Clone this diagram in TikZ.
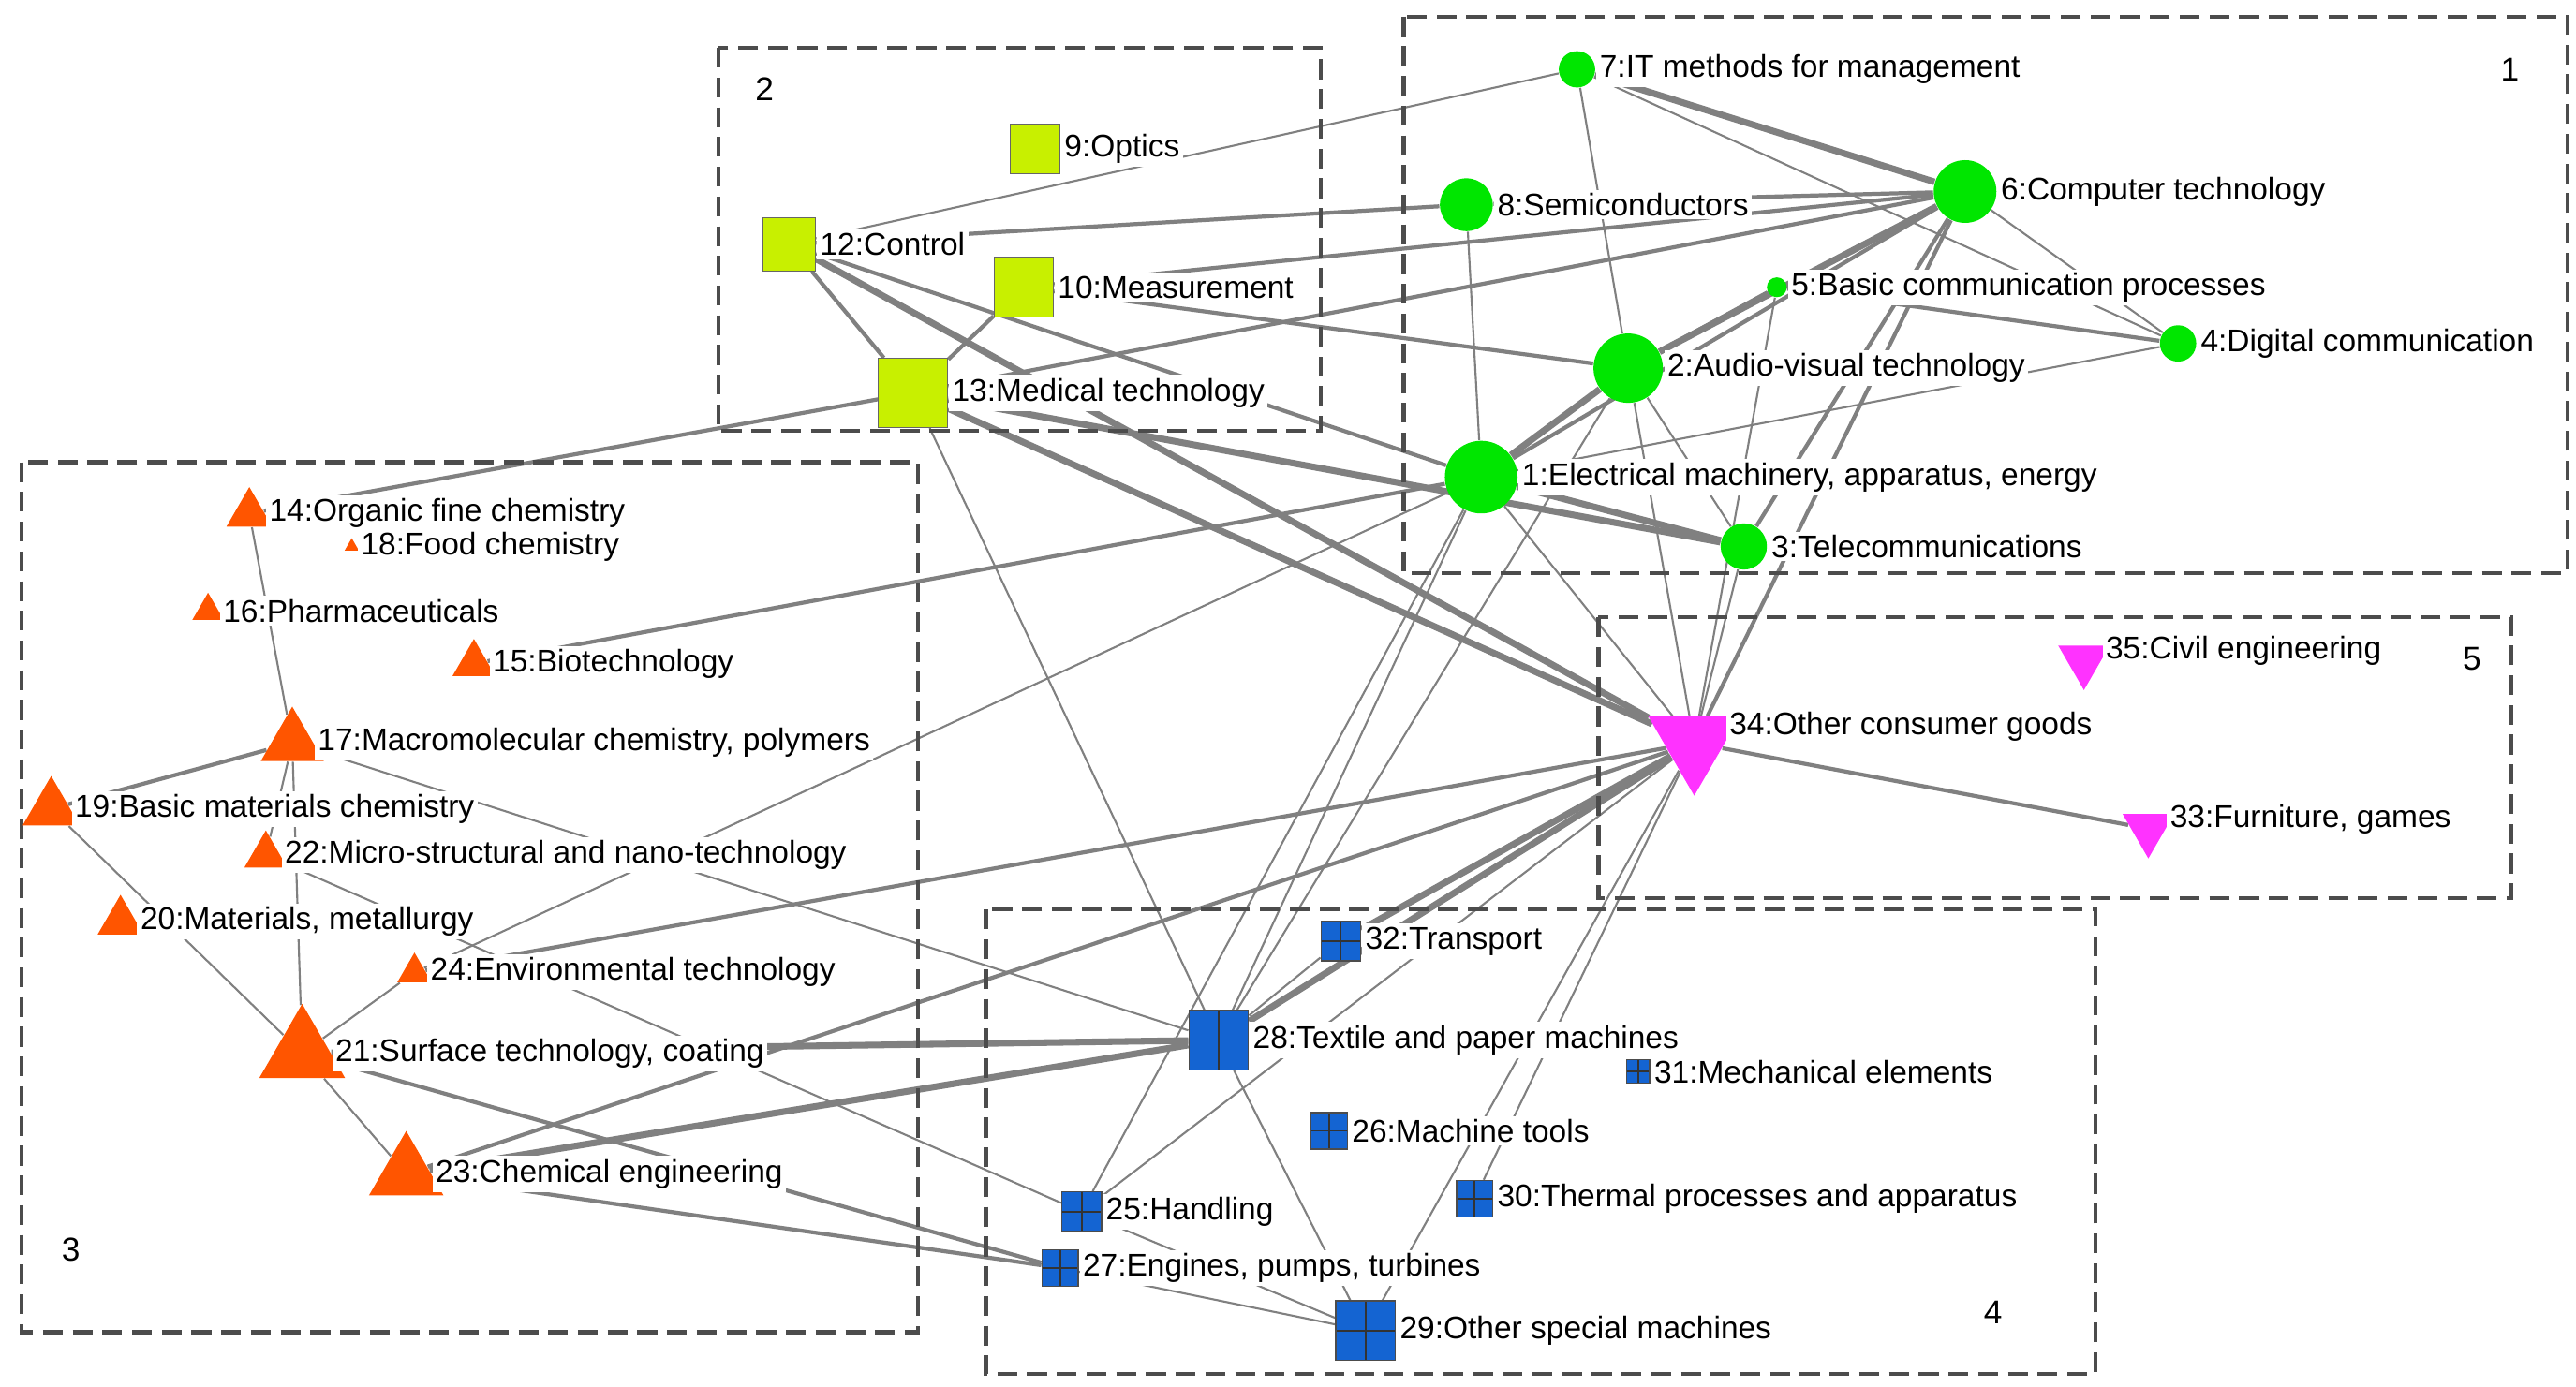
\documentclass[tikz,border=0pt]{standalone}
\usepackage{fontspec}
\setmainfont{Liberation Sans}
\usetikzlibrary{shapes.geometric}
\pgfdeclarelayer{background}
\pgfsetlayers{background,main}

\begin{document}
\begin{tikzpicture}[
  x=0.5pt, y=-0.5pt,
  every label/.style={font=\fontsize{9.5}{11}\selectfont, inner sep=1pt, fill=white},
  gc/.style={circle, fill={rgb,255:red,0;green,230;blue,0}, inner sep=0, minimum size=#1},
  ysq/.style={rectangle, fill={rgb,255:red,200;green,240;blue,0}, draw=black!60, line width=0.3pt, inner sep=0, minimum size=#1},
  tri/.style={regular polygon, regular polygon sides=3, fill={rgb,255:red,255;green,85;blue,0}, inner sep=0, minimum size=#1},
  inv/.style={regular polygon, regular polygon sides=3, shape border rotate=180, fill={rgb,255:red,255;green,50;blue,255}, inner sep=0, minimum size=#1},
  bsq/.style={rectangle, fill={rgb,255:red,20;green,100;blue,210}, draw=black!70, line width=0.4pt, inner sep=0, minimum size=#1,
    path picture={\draw[black!80, line width=0.5pt] (path picture bounding box.north) -- (path picture bounding box.south)
      (path picture bounding box.west) -- (path picture bounding box.east);}},
  grp/.style={draw=black!70, dashed, dash pattern=on 6pt off 3pt, line width=1.2pt},
  e/.style={draw=gray, line width=0.6pt},
  em/.style={draw=gray, line width=1.2pt},
  eh/.style={draw=gray, line width=2pt},
]
\useasboundingbox (0,0) rectangle (1560,840);

% groups
\draw[grp] (850,10) rectangle (1555,347);
\draw[grp] (435,29) rectangle (800,261);
\draw[grp] (13,280) rectangle (556,807);
\draw[grp] (597,551) rectangle (1269,832);
\draw[grp] (968,374) rectangle (1521,544);
\node[font=\fontsize{10}{12}\selectfont] (g1) at (1520,42) {1};
\node[font=\fontsize{10}{12}\selectfont] (g2) at (463,54) {2};
\node[font=\fontsize{10}{12}\selectfont] (g3) at (43,757) {3};
\node[font=\fontsize{10}{12}\selectfont] (g4) at (1207,795) {4};
\node[font=\fontsize{10}{12}\selectfont] (g5) at (1497,399) {5};

% nodes
\node[gc=22pt, label=east:{1:Electrical machinery, apparatus, energy}] (n1) at (897,289) {};
\node[gc=21pt, label=east:{2:Audio-visual technology}] (n2) at (986,223) {};
\node[gc=14pt, label=east:{3:Telecommunications}] (n3) at (1056,331) {};
\node[gc=11pt, label=east:{4:Digital communication}] (n4) at (1319,208) {};
\node[gc=6pt, label=east:{5:Basic communication processes}] (n5) at (1076,174) {};
\node[gc=19pt, label=east:{6:Computer technology}] (n6) at (1190,116) {};
\node[gc=11pt, label=east:{7:IT methods for management}] (n7) at (955,42) {};
\node[gc=16pt, label=east:{8:Semiconductors}] (n8) at (888,124) {};

\node[ysq=15pt, label=east:{9:Optics}] (n9) at (627,90) {};
\node[ysq=18pt, label=east:{10:Measurement}] (n10) at (620,174) {};
\node[ysq=16pt, label=east:{12:Control}] (n12) at (478,148) {};
\node[ysq=21pt, label=east:{13:Medical technology}] (n13) at (553,238) {};

\node[tri=16pt, label=east:{14:Organic fine chemistry}] (n14) at (151,311) {};
\node[tri=15pt, label=east:{15:Biotechnology}] (n15) at (287,402) {};
\node[tri=11pt, label=east:{16:Pharmaceuticals}] (n16) at (126,370) {};
\node[tri=22pt, label=east:{17:Macromolecular chemistry, polymers}] (n17) at (177,450) {};
\node[tri=5pt, label=east:{18:Food chemistry}] (n18) at (213,331) {};
\node[tri=20pt, label=east:{19:Basic materials chemistry}] (n19) at (31,490) {};
\node[tri=16pt, label=east:{20:Materials, metallurgy}] (n20) at (73,558) {};
\node[tri=30pt, label=east:{21:Surface technology, coating}] (n21) at (183,638) {};
\node[tri=15pt, label=east:{22:Micro-structural and nano-technology}] (n22) at (161,518) {};
\node[tri=26pt, label=east:{23:Chemical engineering}] (n23) at (246,711) {};
\node[tri=12pt, label=east:{24:Environmental technology}] (n24) at (251,589) {};

\node[bsq=12pt, label=east:{25:Handling}] (n25) at (655,734) {};
\node[bsq=11pt, label=east:{26:Machine tools}] (n26) at (805,685) {};
\node[bsq=11pt, label=east:{27:Engines, pumps, turbines}] (n27) at (642,768) {};
\node[bsq=18pt, label=east:{28:Textile and paper machines}] (n28) at (738,630) {};
\node[bsq=18pt, label=east:{29:Other special machines}] (n29) at (827,806) {};
\node[bsq=11pt, label=east:{30:Thermal processes and apparatus}] (n30) at (893,726) {};
\node[bsq=7pt, label=east:{31:Mechanical elements}] (n31) at (992,649) {};
\node[bsq=12pt, label=east:{32:Transport}] (n32) at (812,570) {};

\node[inv=32pt, label={[yshift=5pt]east:{34:Other consumer goods}}] (n34) at (1026,450) {};
\node[inv=18pt, label={[yshift=3pt]east:{35:Civil engineering}}] (n35) at (1262,400) {};
\node[inv=18pt, label={[yshift=3pt]east:{33:Furniture, games}}] (n33) at (1301,502) {};

% links
\begin{pgfonlayer}{background}
\path[eh] (n7) -- (n6);
\path[eh] (n13) -- (n34);
\path[eh] (n12) -- (n34);
\path[eh] (n21) -- (n28);
\path[eh] (n23) -- (n28);
\path[eh] (n34) -- (n32);
\path[eh] (n34) -- (n28);
\path[eh] (n2) -- (n1);
\path[eh] (n1) -- (n3);
\path[eh] (n13) -- (n3);
\path[eh] (n6) -- (n2);

\path[em] (n12) -- (n13);
\path[em] (n12) -- (n1);
\path[em] (n10) -- (n13);
\path[em] (n10) -- (n2);
\path[em] (n10) -- (n6);
\path[em] (n13) -- (n6);
\path[em] (n12) -- (n8);
\path[em] (n8) -- (n6);
\path[em] (n2) -- (n5);
\path[em] (n1) -- (n6);
\path[em] (n6) -- (n3);
\path[em] (n5) -- (n4);
\path[em] (n6) -- (n34);
\path[em] (n1) -- (n15);
\path[em] (n34) -- (n33);
\path[em] (n17) -- (n19);
\path[em] (n21) -- (n27);
\path[em] (n23) -- (n34);
\path[em] (n23) -- (n27);
\path[em] (n24) -- (n34);
\path[em] (n13) -- (n14);

\path[e] (n7) -- (n2);
\path[e] (n7) -- (n4);
\path[e] (n7) -- (n12);
\path[e] (n8) -- (n1);
\path[e] (n1) -- (n4);
\path[e] (n6) -- (n4);
\path[e] (n2) -- (n3);
\path[e] (n1) -- (n34);
\path[e] (n2) -- (n34);
\path[e] (n3) -- (n34);
\path[e] (n5) -- (n34);
\path[e] (n13) -- (n28);
\path[e] (n1) -- (n24);
\path[e] (n1) -- (n28);
\path[e] (n1) -- (n25);
\path[e] (n34) -- (n29);
\path[e] (n17) -- (n14);
\path[e] (n17) -- (n22);
\path[e] (n17) -- (n28);
\path[e] (n21) -- (n19);
\path[e] (n21) -- (n17);
\path[e] (n21) -- (n23);
\path[e] (n22) -- (n25);
\path[e] (n24) -- (n21);
\path[e] (n28) -- (n29);
\path[e] (n28) -- (n32);
\path[e] (n25) -- (n29);
\path[e] (n27) -- (n29);
\path[e] (n30) -- (n34);
\path[e] (n25) -- (n34);
\path[e] (n2) -- (n28);
\end{pgfonlayer}
\end{tikzpicture}
\end{document}
